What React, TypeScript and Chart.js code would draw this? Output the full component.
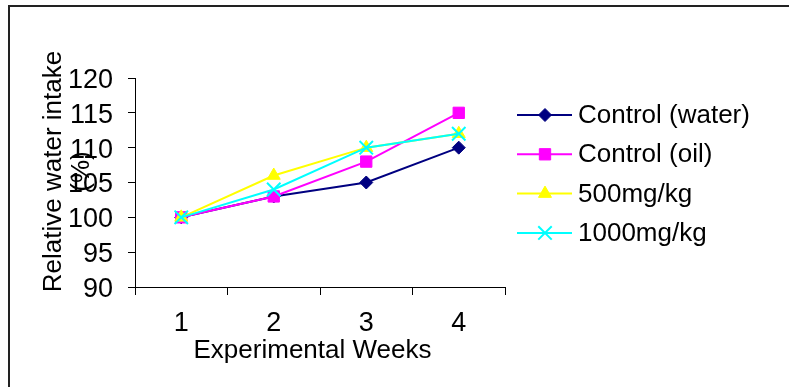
import React, { useEffect, useRef } from 'react';
import { Chart, registerables } from 'chart.js';
import { drawPoint } from 'chart.js/helpers';

Chart.register(...registerables);

// ---- data ----
const weeks = ['1', '2', '3', '4'];
const seriesNames = ['Control (water)', 'Control (oil)', '500mg/kg', '1000mg/kg'];
const controlWater = [100, 103, 105, 110];
const controlOil = [100, 103, 108, 115];
const dose500 = [100, 106, 110, 112];
const dose1000 = [100, 104, 110, 112];
const yTicks = [90, 95, 100, 105, 110, 115, 120];
const xTitle = 'Experimental Weeks';
const yTitleLines = ['Relative water intake', '(%)'];

const FONT = '"Liberation Sans", Arial, sans-serif';
const seriesValues = [controlWater, controlOil, dose500, dose1000];
const seriesColors = ['#000080', '#FF00FF', '#FFFF00', '#00FFFF'];
const seriesPoint = ['rectRot', 'rect', 'triangle', 'crossRot'];
const seriesRadius = [6.5, 8, 7.5, 9.5];
const seriesPointBorder = [1, 1, 1, 2];

const overlayPlugin = {
  id: 'overlay',
  afterDraw(chart: any) {
    const { ctx, chartArea } = chart;
    const ca = chartArea;
    ctx.save();
    ctx.fillStyle = '#000';
    ctx.font = `26px ${FONT}`;
    // x title
    ctx.textAlign = 'center';
    ctx.textBaseline = 'alphabetic';
    ctx.fillText(xTitle, (ca.left + ca.right) / 2 - 7.5, ca.bottom + 71);
    // y title (rotated)
    const cy = (ca.top + ca.bottom) / 2 - 11;
    const baseXs = [ca.left - 74, ca.left - 46];
    yTitleLines.forEach((line, i) => {
      ctx.save();
      ctx.translate(baseXs[i], cy);
      ctx.rotate(-Math.PI / 2);
      ctx.textAlign = 'center';
      ctx.textBaseline = 'alphabetic';
      ctx.fillText(line, 0, 0);
      ctx.restore();
    });
    // legend
    const lx = ca.right + 12;
    chart.data.datasets.forEach((ds: any, i: number) => {
      const y = ca.top + 37 + i * 39.3;
      ctx.strokeStyle = ds.borderColor;
      ctx.lineWidth = 2;
      ctx.beginPath();
      ctx.moveTo(lx, y);
      ctx.lineTo(lx + 55, y);
      ctx.stroke();
      ctx.fillStyle = ds.pointBackgroundColor;
      ctx.strokeStyle = ds.pointBorderColor;
      ctx.lineWidth = ds.pointBorderWidth;
      drawPoint(ctx, { pointStyle: ds.pointStyle, radius: ds.pointRadius, rotation: 0, borderWidth: ds.pointBorderWidth } as any, lx + 28, y);
      ctx.fillStyle = '#000';
      ctx.textAlign = 'left';
      ctx.textBaseline = 'middle';
      ctx.fillText(ds.label, lx + 61, y + 1);
    });
    ctx.restore();
  },
};

export default function App() {
  const ref = useRef<HTMLCanvasElement>(null);
  useEffect(() => {
    if (!ref.current) return;
    const chart = new Chart(ref.current, {
      type: 'line',
      data: {
        labels: weeks,
        datasets: seriesNames.map((name, i) => ({
          label: name,
          data: seriesValues[i],
          borderColor: seriesColors[i],
          backgroundColor: seriesColors[i],
          borderWidth: 2,
          pointStyle: seriesPoint[i],
          pointRadius: seriesRadius[i],
          pointBackgroundColor: seriesColors[i],
          pointBorderColor: seriesColors[i],
          pointBorderWidth: seriesPointBorder[i],
          tension: 0,
          fill: false,
          order: seriesNames.length - i,
        })),
      },
      options: {
        responsive: false,
        animation: false,
        layout: { padding: { left: 0, right: 284, top: 78, bottom: 0 } },
        plugins: { legend: { display: false }, tooltip: { enabled: false } },
        scales: {
          x: {
            type: 'category',
            offset: true,
            grid: { offset: true, drawOnChartArea: false, drawTicks: true, tickLength: 8, color: '#000', lineWidth: 1 },
            border: { display: true, color: '#000', width: 1 },
            ticks: { color: '#000', font: { family: FONT, size: 27 }, padding: 12, maxRotation: 0, autoSkip: false },
            afterFit: (s: any) => { s.height = 100; },
          },
          y: {
            min: yTicks[0],
            max: yTicks[yTicks.length - 1],
            afterBuildTicks: (s: any) => { s.ticks = yTicks.map((v) => ({ value: v })); },
            grid: { drawOnChartArea: false, drawTicks: true, tickLength: 7, color: '#000', lineWidth: 1 },
            border: { display: true, color: '#000', width: 1 },
            ticks: { color: '#000', font: { family: FONT, size: 27 }, padding: 15, labelOffset: 2.5, autoSkip: false },
            afterFit: (s: any) => { s.width = 135; },
          },
        },
      },
      plugins: [overlayPlugin],
    });
    return () => chart.destroy();
  }, []);
  return (
    <>
      <div style={{ position: 'fixed', left: 8, top: 5, width: 781, height: 382, borderLeft: '2px solid #222', borderTop: '2px solid #222', boxSizing: 'border-box' }} />
      <canvas ref={ref} width={789} height={387} style={{ position: 'fixed', left: 0, top: 0, display: 'block' }} />
    </>
  );
}
